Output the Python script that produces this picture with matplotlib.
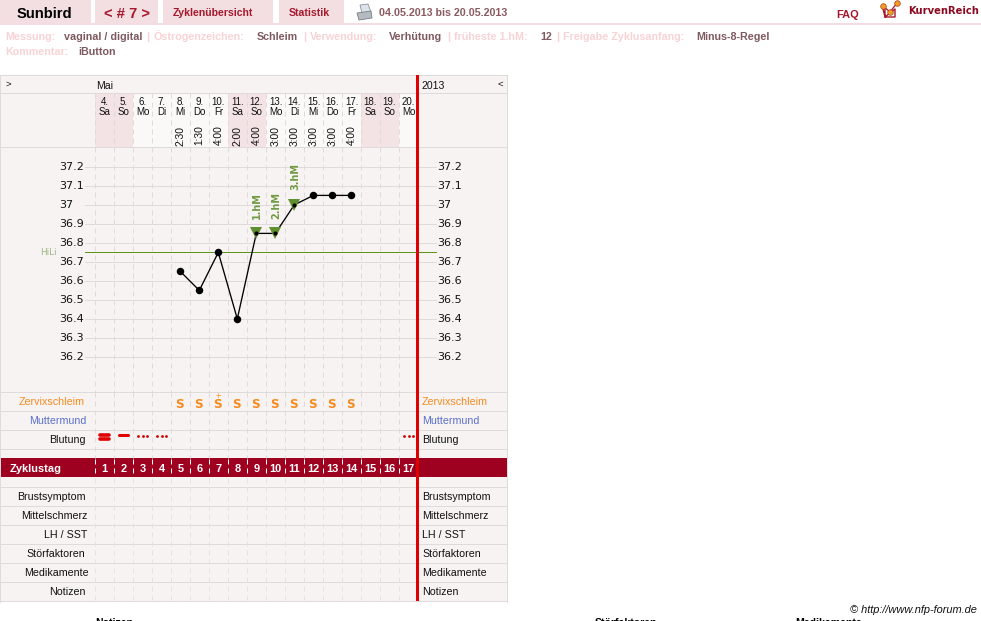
import numpy as np
import matplotlib
matplotlib.use("Agg")
import matplotlib.pyplot as plt
from matplotlib.patches import Rectangle, Polygon
from matplotlib.transforms import blended_transform_factory

plt.rcParams['font.family'] = ['Liberation Sans', 'DejaVu Sans']

# Cycle data
day_numbers = [4, 5, 6, 7, 8, 9, 10, 11, 12, 13, 14, 15, 16, 17, 18, 19, 20]
weekdays = ['Sa', 'So', 'Mo', 'Di', 'Mi', 'Do', 'Fr', 'Sa', 'So', 'Mo', 'Di', 'Mi', 'Do', 'Fr', 'Sa', 'So', 'Mo']
wake_times = ['', '', '', '', '2:30', '1:30', '4:00', '2:00', '4:00', '3:00', '3:00', '3:00', '3:00', '4:00', '', '', '']
temperatures = [None, None, None, None, 36.65, 36.55, 36.75, 36.40, 36.85, 36.85, 37.0, 37.05, 37.05, 37.05, None, None, None]
mucus = ['', '', '', '', 'S', 'S', 'S+', 'S', 'S', 'S', 'S', 'S', 'S', 'S', '', '', '']
bleeding = [3, 2, 1, 1, 0, 0, 0, 0, 0, 0, 0, 0, 0, 0, 0, 0, 1]
peak_days = [8, 9, 10]
peak_labels = ['1.hM', '2.hM', '3.hM']
temp_ticks = [37.2, 37.1, 37.0, 36.9, 36.8, 36.7, 36.6, 36.5, 36.4, 36.3, 36.2]
temp_tick_labels = ['37.2', '37.1', '37', '36.9', '36.8', '36.7', '36.6', '36.5', '36.4', '36.3', '36.2']
cover_line = 36.75
cycle_days = list(range(1, 18))
upper_rows = [('Zervixschleim', 85, '#F58A1F', 405), ('Muttermund', 86, '#5A70C8', 424), ('Blutung', 86, '#111111', 443)]
lower_rows = [('Brustsymptom', 86, 500), ('Mittelschmerz', 87, 519), ('LH / SST', 87, 538),
              ('Störfaktoren', 85, 557), ('Medikamente', 89, 576), ('Notizen', 86, 595)]
meta_first = [('Messung:', 5, 0), ('vaginal / digital', 64, 1), ('|', 146, 0), ('Östrogenzeichen:', 154, 0),
              ('Schleim', 257, 1), ('|', 303, 0), ('Verwendung:', 310, 0), ('Verhütung', 389, 1), ('|', 447, 0),
              ('früheste 1.hM:', 454, 0), ('12', 540, 1), ('|', 556, 0), ('Freigabe Zyklusanfang:', 563, 0),
              ('Minus-8-Regel', 696, 1)]
meta_second = [('Kommentar:', 5, 0), ('iButton', 78, 1)]

W, H = 981, 621
fig = plt.figure(figsize=(W / 100, H / 100), dpi=100, facecolor='white')

# Page layer in pixel coordinates
page = fig.add_axes([0, 0, 1, 1])
page.set_xlim(0, W)
page.set_ylim(H, 0)
page.axis('off')

BG = '#F8F3F3'
GRID = '#DEDBDA'
PINK = '#F3DFE1'
DARK = '#A6182E'
BAND = '#9E0020'
RED = '#E00000'


def box(x0, y0, x1, y1, color, z=1):
    page.add_patch(Rectangle((x0, y0), x1 - x0, y1 - y0, facecolor=color, edgecolor='none', zorder=z))


def hline(y, x0, x1, color=GRID, z=2):
    page.plot([x0, x1], [y, y], color=color, lw=0.72, zorder=z, solid_capstyle='butt')


def put(x, y, text, **kw):
    kw.setdefault('va', 'baseline')
    page.text(x, y, text, **kw)


# Navigation bar
for x0, x1 in [(0, 91), (95, 158), (163, 273), (279, 344)]:
    box(x0, 0, x1, 23, PINK)
box(0, 23, W, 25, '#F3DDE0')
put(16.5, 18, 'Sunbird', fontsize=10.6, fontweight='bold', color='black')
put(127.5, 18, '< # 7 >', fontsize=10.6, fontweight='bold', color=DARK, ha='center')
put(173, 16, 'Zyklenübersicht', fontsize=7.6, fontweight='bold', color=DARK)
put(289, 16, 'Statistik', fontsize=7.6, fontweight='bold', color=DARK)
put(379, 16, '04.05.2013 bis 20.05.2013', fontsize=7.7, fontweight='bold', color='#8A5A60')
put(836, 18, 'FAQ', fontsize=7.9, fontweight='bold', color=DARK)
put(908, 14, 'KurvenReich', fontsize=7.2, fontweight='bold', color='#8B0A22', family='DejaVu Sans')

# Printer symbol
page.add_patch(Polygon([(360, 5), (368, 4), (371, 12), (362, 13)], facecolor='#DDE3EA', edgecolor='#8A929A', lw=0.6, zorder=3))
page.add_patch(Polygon([(357, 13), (371, 11), (372, 18), (359, 20)], facecolor='#B4BAC0', edgecolor='#777E86', lw=0.6, zorder=3))

# Logo symbol
page.plot([883, 885, 895, 895, 885, 885], [9, 17, 17, 9, 17, 9], color='#A6182E', lw=1.0, zorder=3)
page.plot([883, 890, 897], [6, 12, 3], color='#A6182E', lw=0.9, zorder=3)
page.plot([883, 890, 897], [6, 12, 3], ls='none', marker='o', ms=4.0, mfc='#F0A020', mec='#B03020', mew=0.5, zorder=4)

# Cycle settings
for row, y in ((meta_first, 40), (meta_second, 55)):
    for text, x, is_value in row:
        put(x, y, text, fontsize=7.75, fontweight='bold', color='#7E5A60' if is_value else '#F8D3D6')

# Chart table background
box(0, 75, 507, 601, BG)
for x in (0, 507):
    page.plot([x, x], [75, 602], color=GRID, lw=0.72, zorder=2)

# Header cells, weekends tinted
for i, wd in enumerate(weekdays):
    x0 = 95 + 19 * i
    box(x0, 93, x0 + 19, 148, '#F3E3E5' if wd in ('Sa', 'So') else '#FBF8F8')

# Row separators
for y in (75, 93, 147, 392, 411, 430, 449, 487, 506, 525, 544, 563, 582, 601):
    hline(y, 0, 507)

# Cycle-day band
box(1, 458, 507, 477, BAND, z=2)

# Dashed column separators
for k in range(17):
    x = 95 + 19 * k
    page.plot([x, x], [93, 392], color=GRID, lw=0.72, dashes=(5, 4), zorder=2.5)
    page.plot([x, x], [392, 458], color=GRID, lw=0.72, dashes=(5, 4), zorder=2.5)
    page.plot([x, x], [459, 477], color='white', lw=0.72, dashes=(5, 4), zorder=2.5)
    page.plot([x, x], [478, 601], color='#E6E2E2', lw=0.72, dashes=(5, 4), zorder=2.5)

# Column headers
put(5, 87, '>', fontsize=6.8, color='#111111')
put(96, 89, 'Mai', fontsize=7.6, color='#111111')
put(422, 89, '2013', fontsize=7.6, color='#111111')
put(498, 87, '<', fontsize=6.8, color='#111111')

# Row captions on both sides of the chart
for label, right, color, y in upper_rows:
    put(right, y, label, fontsize=7.7, color=color, ha='right')
    put(422, y, label, fontsize=7.7, color=color, ha='left')
for label, right, y in lower_rows:
    put(right, y, label, fontsize=7.7, color='#111111', ha='right')
    put(422, y, label, fontsize=7.7, color='#111111', ha='left')
put(10, 472, 'Zyklustag', fontsize=7.9, fontweight='bold', color='white')

# Footer
put(977, 613, '© http://www.nfp-forum.de', fontsize=7.9, style='italic', color='#111111', ha='right')
for x, label in ((95, 'Notizen'), (595, 'Störfaktoren'), (795, 'Medikamente')):
    put(x, 626, label, fontsize=7.6, fontweight='bold', color='black')

# Day columns share one x scale; y stays in page pixels for the strips
strip = fig.add_axes([95 / W, 0, 323 / W, 1])
strip.set_xlim(-0.5, 16.5)
strip.set_ylim(H, 0)
strip.axis('off')

days = np.arange(len(day_numbers))
for i in days:
    strip.text(i, 105, f'{day_numbers[i]}.', fontsize=7.0, color='#111111', ha='center', va='baseline')
    strip.text(i, 115, weekdays[i], fontsize=7.0, color='#111111', ha='center', va='baseline')
    if wake_times[i]:
        strip.text(i, 135.5, wake_times[i], fontsize=7.4, color='#111111', rotation=90, ha='center', va='center')
    strip.text(i, 472, str(cycle_days[i]), fontsize=7.9, fontweight='bold', color='white', ha='center', va='baseline')
    if mucus[i]:
        strip.text(i - 0.03, 408, 'S', fontsize=8.6, fontweight='bold', color='#F58A1F', ha='center', va='baseline',
                   family='DejaVu Sans')
        if mucus[i].endswith('+'):
            strip.text(i - 0.03, 399.5, '+', fontsize=6.8, color='#F58A1F', ha='center', va='baseline')
    # Bleeding: 3 = heavy, 2 = medium, 1 = spotting
    if bleeding[i] == 3:
        strip.plot([i - 0.24, i + 0.24], [435.2, 435.2], color=RED, lw=2.6, solid_capstyle='round')
        strip.plot([i - 0.24, i + 0.24], [439.4, 439.4], color=RED, lw=2.6, solid_capstyle='round')
    elif bleeding[i] == 2:
        strip.plot([i - 0.24, i + 0.24], [435.2, 435.2], color=RED, lw=2.2, solid_capstyle='round')
    elif bleeding[i] == 1:
        strip.plot([i - 0.26, i, i + 0.26], [435.5] * 3, ls='none', marker='o', ms=2.0, mfc='#D00000', mec='none')

# Temperature curve on its own y scale
chart = fig.add_axes([94.8 / W, (H - 394.9) / H, 323 / W, 247 / H])
chart.set_xlim(-0.5, 16.5)
chart.set_ylim(36.0, 37.3)
chart.axis('off')
chart.patch.set_alpha(0)

grid_trans = blended_transform_factory(page.transData, chart.transData)
for t, lab in zip(temp_ticks, temp_tick_labels):
    chart.plot([85, 436], [t, t], transform=grid_trans, color=GRID, lw=0.72, clip_on=False, zorder=1)
    chart.text(59.5, t, lab, transform=grid_trans, fontsize=8.0, family='DejaVu Sans', color='#111111', va='center')
    chart.text(437, t, lab, transform=grid_trans, fontsize=8.0, family='DejaVu Sans', color='#111111', va='center')

chart.plot([85, 436], [cover_line, cover_line], transform=grid_trans, color='#5F9418', lw=0.72, clip_on=False, zorder=3)
chart.text(40, cover_line, 'HiLi', transform=grid_trans, fontsize=6.4, family='DejaVu Sans', color='#9DB584',
           va='center', zorder=3)

measured = [i for i in days if temperatures[i] is not None]
values = [temperatures[i] for i in measured]
chart.plot(measured, values, color='black', lw=0.95, zorder=4, clip_on=False)
chart.plot(peak_days, [temperatures[d] for d in peak_days], ls='none', marker='v', ms=8.6,
           mfc='#5F8F2E', mec='#5F8F2E', mew=0, zorder=5)
plain = [i for i in measured if i not in peak_days]
chart.plot(plain, [temperatures[i] for i in plain], ls='none', marker='o', ms=5.4, mfc='black', mec='black', mew=0, zorder=6)
chart.plot(peak_days, [temperatures[d] for d in peak_days], ls='none', marker='o', ms=3.0, mfc='black', mec='black', mew=0, zorder=6)
for d, label in zip(peak_days, peak_labels):
    chart.annotate(label, (d, temperatures[d]), xytext=(0.5, 10.5), textcoords='offset points', rotation=90,
                   ha='center', va='bottom', fontsize=6.9, fontweight='bold', family='DejaVu Sans',
                   color='#6F9A42', zorder=5)

# Red end-of-chart marker above everything
page_top = fig.add_axes([0, 0, 1, 1])
page_top.set_xlim(0, W)
page_top.set_ylim(H, 0)
page_top.axis('off')
page_top.patch.set_alpha(0)
page_top.add_patch(Rectangle((416, 75), 3, 526, facecolor=RED, edgecolor='none'))

fig.savefig('out.png', dpi=100, facecolor='white')
